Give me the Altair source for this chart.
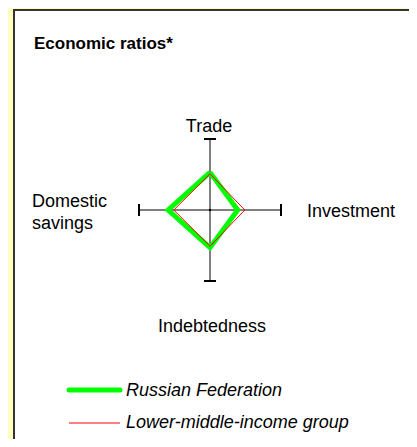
import altair as alt
import pandas as pd
import numpy as np

# ---- data ----
axes_names = ["Trade", "Investment", "Indebtedness", "Domestic savings"]
russia = [0.53, 0.39, 0.53, 0.59]
lmi_group = [0.51, 0.49, 0.51, 0.51]
series_names = ["Russian Federation", "Lower-middle-income group"]
title_text = "Economic ratios*"

# ---- layout (page px -> data units) ----
R = 71.0           # px per unit
CX, CY = 202.0, 202.0  # canvas centre
W, H = 401, 431
xdom = [-CX / R, (W - CX) / R]
ydom = [-(H - CY) / R, CY / R]

def dx(px):  # page x -> data
    return (px - 8 - CX) / R

def dy(py):  # page y -> data
    return (CY - (py - 8)) / R

angles = [90, 0, 270, 180]  # Trade top, Investment right, Indebtedness bottom, Savings left
rows = []
for s, vals in zip(series_names, [russia, lmi_group]):
    for i in range(5):
        k = i % 4
        a = np.deg2rad(angles[k])
        rows.append({"series": s, "order": i, "x": vals[k] * np.cos(a), "y": vals[k] * np.sin(a)})
poly = pd.DataFrame(rows)

xs = alt.X("x:Q", scale=alt.Scale(domain=xdom, nice=False, zero=False), axis=None)
ys = alt.Y("y:Q", scale=alt.Scale(domain=ydom, nice=False, zero=False), axis=None)

panel = alt.Chart(pd.DataFrame({"a": [0]})).mark_rect(
    fill="white", stroke="#333333", strokeWidth=2
).encode(x=alt.value(6), x2=alt.value(440), y=alt.value(2), y2=alt.value(470))

axis_df = pd.DataFrame({"x": [-1, 0], "y": [0, -1], "x2": [1, 0], "y2": [0, 1]})
axis_lines = alt.Chart(axis_df).mark_rule(color="#808080", strokeWidth=2).encode(
    x=xs, y=ys, x2="x2:Q", y2="y2:Q")

cap = 6 / R
cap_df = pd.DataFrame({
    "x": [-1, 1, -cap, -cap], "x2": [-1, 1, cap, cap],
    "y": [-cap, -cap, 1, -1], "y2": [cap, cap, 1, -1]})
caps = alt.Chart(cap_df).mark_rule(color="black", strokeWidth=2).encode(
    x=xs, y=ys, x2="x2:Q", y2="y2:Q")

center_dot = alt.Chart(pd.DataFrame({"x": [0], "y": [0]})).mark_point(
    filled=True, color="black", size=6, opacity=1).encode(x=xs, y=ys)

green = alt.Chart(poly[poly.series == series_names[0]]).mark_line(
    color="#00FF00", strokeWidth=5, strokeJoin="miter").encode(x=xs, y=ys, order="order:Q")
red = alt.Chart(poly[poly.series == series_names[1]]).mark_line(
    color="#FF0000", strokeWidth=1).encode(x=xs, y=ys, order="order:Q")

FS = 18
lab_df = pd.DataFrame({
    "t": [axes_names[0], axes_names[1], axes_names[2]],
    "x": [dx(209), dx(307), dx(212)],
    "y": [dy(127), dy(212), dy(327)],
    "al": ["center", "left", "center"]})
labels_c = alt.Chart(lab_df[lab_df["al"] == "center"]).mark_text(
    font="Liberation Sans", fontSize=FS, color="black", align="center", baseline="middle"
).encode(x=xs, y=ys, text="t:N")
labels_l = alt.Chart(lab_df[lab_df["al"] == "left"]).mark_text(
    font="Liberation Sans", fontSize=FS, color="black", align="left", baseline="middle"
).encode(x=xs, y=ys, text="t:N")
sav = alt.Chart(pd.DataFrame({"t": [["Domestic", "savings"]], "x": [dx(32)], "y": [dy(202)]})).mark_text(
    font="Liberation Sans", fontSize=FS, color="black", align="left", baseline="middle", lineHeight=22
).encode(x=xs, y=ys, text="t")

title = alt.Chart(pd.DataFrame({"t": [title_text], "x": [dx(34)], "y": [dy(44)]})).mark_text(
    font="Liberation Sans", fontSize=17, fontWeight="bold", color="black", align="left", baseline="middle"
).encode(x=xs, y=ys, text="t:N")

leg_lines = pd.DataFrame({"s": series_names, "x": [dx(69), dx(69)], "x2": [dx(120), dx(120)],
                          "y": [dy(390), dy(423)]})
leg_g = alt.Chart(leg_lines.iloc[[0]]).mark_rule(color="#00FF00", strokeWidth=5, strokeCap="round").encode(
    x=xs, y=ys, x2="x2:Q")
leg_r = alt.Chart(leg_lines.iloc[[1]]).mark_rule(color="#FF0000", strokeWidth=1).encode(
    x=xs, y=ys, x2="x2:Q")
leg_t = alt.Chart(pd.DataFrame({"t": series_names, "x": [dx(126), dx(126)], "y": [dy(391), dy(423)]})).mark_text(
    font="Liberation Sans", fontSize=FS, fontStyle="italic", color="black", align="left", baseline="middle"
).encode(x=xs, y=ys, text="t:N")

chart = alt.layer(panel, axis_lines, caps, center_dot, green, red, labels_c, labels_l, sav, title,
                  leg_g, leg_r, leg_t).properties(
    width=W, height=H, autosize=alt.AutoSizeParams(type="none"), padding=0,
    background="#FFFFC0"
).configure_view(stroke=None)

chart.save("out.html", embed_options={"renderer": "svg", "actions": False})
